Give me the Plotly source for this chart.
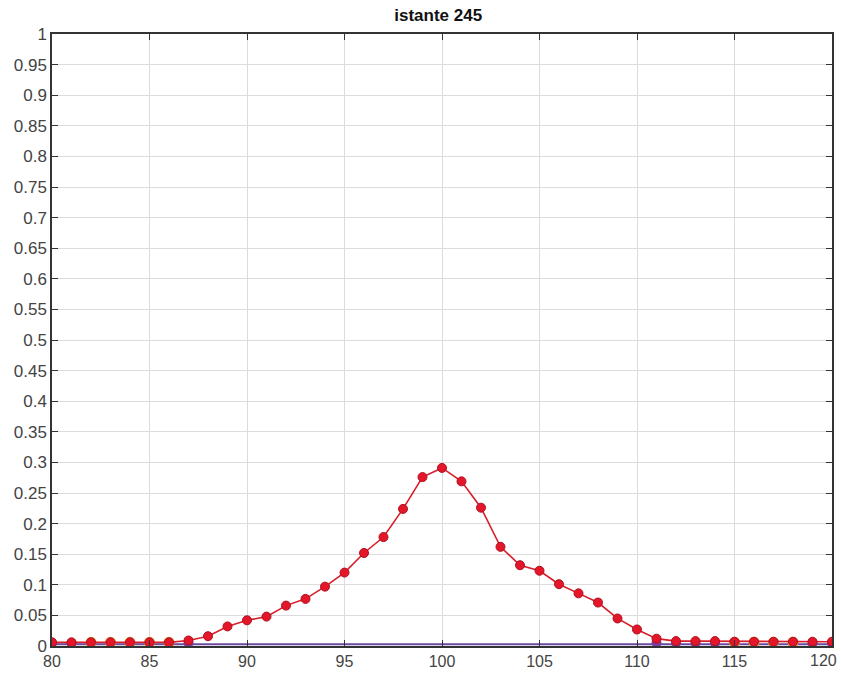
import plotly.graph_objects as go

# Spatial positions
x = list(range(80, 121))

# Profile at time step 245
profile = [0.006, 0.006, 0.006, 0.006, 0.006, 0.006, 0.006, 0.009, 0.016, 0.032,
           0.042, 0.048, 0.066, 0.077, 0.097, 0.120, 0.152, 0.178, 0.224, 0.276,
           0.291, 0.269, 0.226, 0.162, 0.132, 0.123, 0.101, 0.086, 0.071, 0.045,
           0.027, 0.012, 0.008, 0.008, 0.008, 0.007, 0.007, 0.007, 0.007, 0.007, 0.007]

# Earlier state resting on the baseline
base_line = [0.003] * len(x)
base_mark_x = [80, 81, 82, 83, 84, 85, 86, 87, 111, 112, 113, 114, 115, 116, 117, 118, 119, 120]
base_mark_y = [0.005] * len(base_mark_x)
base_orange_x = [82, 83, 84, 85, 86, 115, 116, 117, 118]
base_orange_y = [0.006] * len(base_orange_x)

y_ticks = [round(i * 0.05, 2) for i in range(21)]
y_labels = ["0" if v == 0 else ("1" if v == 1 else ("%g" % v)) for v in y_ticks]
x_ticks = list(range(80, 121, 5))
x_labels = [str(v) for v in x_ticks]

fig = go.Figure()
fig.add_trace(go.Scatter(x=x, y=base_line, mode="lines",
                         line=dict(color="#6a4aa0", width=2)))
fig.add_trace(go.Scatter(x=base_mark_x, y=base_mark_y, mode="markers",
                         marker=dict(color="#7a3fa0", size=10)))
fig.add_trace(go.Scatter(x=base_orange_x, y=base_orange_y, mode="markers",
                         marker=dict(color="#e0a030", size=11)))
fig.add_trace(go.Scatter(x=x, y=profile, mode="lines+markers",
                         line=dict(color="#d81e2a", width=1.6),
                         marker=dict(color="#e3162a", size=9,
                                     line=dict(color="#b01020", width=1))))

x_font = dict(family="Liberation Sans, Arial, sans-serif", size=16, color="#444444")
y_font = dict(family="Liberation Sans, Arial, sans-serif", size=17, color="#444444")

# last x label is pulled in so it stays inside the page
fig.add_annotation(x=x_ticks[-1], y=0, xref="x", yref="paper", text=x_labels[-1],
                   xanchor="right", yanchor="top", xshift=7, yshift=-4,
                   showarrow=False, font=x_font)

fig.update_layout(
    width=841, height=675,
    margin=dict(l=52, r=9, t=34, b=29, autoexpand=False),
    paper_bgcolor="white", plot_bgcolor="white",
    showlegend=False,
    title=dict(text="<b>istante 245</b>", x=0.521, xanchor="center", y=0.978, yanchor="middle",
               font=dict(family="Liberation Sans, Arial, sans-serif", size=17, color="#111111")),
    xaxis=dict(range=[80, 120], tickvals=x_ticks, ticktext=x_labels[:-1] + [""],
               showgrid=True, gridcolor="#dcdcdc", gridwidth=1, zeroline=False,
               showline=True, linecolor="#333333", linewidth=1.5, mirror="ticks",
               ticks="inside", ticklen=6, tickcolor="#333333", tickfont=x_font,
               automargin=False),
    yaxis=dict(range=[0, 1], tickvals=y_ticks, ticktext=y_labels,
               showgrid=True, gridcolor="#dcdcdc", gridwidth=1, zeroline=False,
               showline=True, linecolor="#333333", linewidth=1.5, mirror="ticks",
               ticks="inside", ticklen=6, tickcolor="#333333", tickfont=y_font,
               automargin=False),
)

fig.write_html("out.html")
